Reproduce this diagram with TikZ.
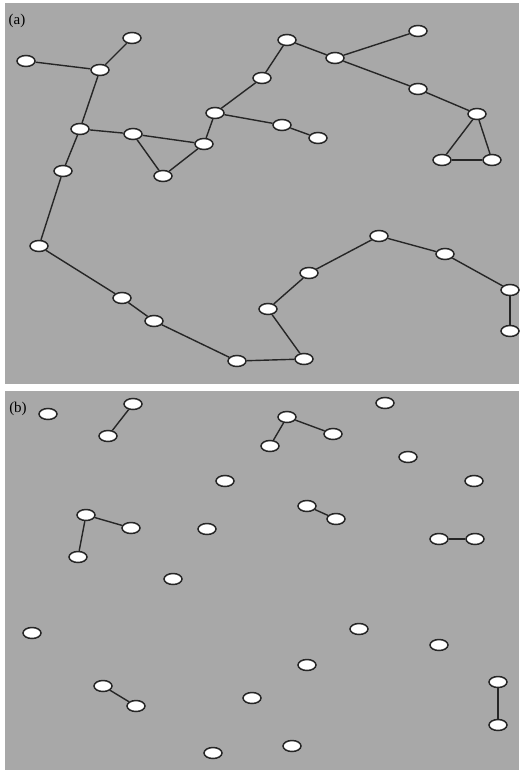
\documentclass[tikz,border=0pt]{standalone}
\usepackage{fontspec}
\setmainfont{Liberation Serif}
\usepackage{tikz}
\usetikzlibrary{shapes.geometric, positioning}

\definecolor{panelgray}{HTML}{A8A8A8}

\begin{document}
\begin{tikzpicture}[
    x=1pt, y=-1pt,
    % --- STYLES ---
    sensor/.style={
        ellipse, draw=black!85, fill=white,
        line width=1.5pt,
        minimum width=18pt, minimum height=11pt,
        inner sep=0pt
    },
    link/.style={line width=1.4pt, black!85},
    panel/.style={fill=panelgray, draw=none},
    tag/.style={font=\fontsize{15}{16}\selectfont, inner sep=0pt}
]

% ===== 1. CANVAS & PANELS =====
\useasboundingbox (0,0) rectangle (519,770);
\fill[white] (0,0) rectangle (519,770);
\fill[panel] (5,3) rectangle (519,384);
\fill[panel] (5,391) rectangle (519,770);

\node[tag] (taga) at (17,21) {(a)};
\node[tag] (tagb) at (18,409) {(b)};

% ===== 2. PANEL (a) NODES =====
\node[sensor] (a1) at (26,61) {};
\node[sensor] (a2) at (100,70) {};
\node[sensor] (a3) at (132,38) {};
\node[sensor] (a4) at (80,129) {};
\node[sensor] (a5) at (133,134) {};
\node[sensor] (a6) at (204,144) {};
\node[sensor] (a7) at (163,176) {};
\node[sensor] (a8) at (63,171) {};
\node[sensor] (a9) at (215,113) {};
\node[sensor] (a10) at (262,78) {};
\node[sensor] (a11) at (287,40) {};
\node[sensor] (a12) at (335,58) {};
\node[sensor] (a13) at (418,31) {};
\node[sensor] (a14) at (418,89) {};
\node[sensor] (a15) at (477,114) {};
\node[sensor] (a16) at (442,160) {};
\node[sensor] (a17) at (492,160) {};
\node[sensor] (a18) at (282,125) {};
\node[sensor] (a19) at (318,138) {};
\node[sensor] (a20) at (39,246) {};
\node[sensor] (a21) at (122,298) {};
\node[sensor] (a22) at (154,321) {};
\node[sensor] (a23) at (237,361) {};
\node[sensor] (a24) at (304,359) {};
\node[sensor] (a25) at (268,309) {};
\node[sensor] (a26) at (309,273) {};
\node[sensor] (a27) at (379,236) {};
\node[sensor] (a28) at (445,254) {};
\node[sensor] (a29) at (510,290) {};
\node[sensor] (a30) at (510,331) {};

% ===== 3. PANEL (b) NODES =====
\node[sensor] (b1) at (48,414) {};
\node[sensor] (b2) at (133,404) {};
\node[sensor] (b3) at (108,436) {};
\node[sensor] (b4) at (225,481) {};
\node[sensor] (b5) at (86,515) {};
\node[sensor] (b6) at (131,528) {};
\node[sensor] (b7) at (78,557) {};
\node[sensor] (b8) at (207,529) {};
\node[sensor] (b9) at (173,579) {};
\node[sensor] (b10) at (287,417) {};
\node[sensor] (b11) at (333,434) {};
\node[sensor] (b12) at (270,446) {};
\node[sensor] (b13) at (385,403) {};
\node[sensor] (b14) at (408,457) {};
\node[sensor] (b15) at (474,481) {};
\node[sensor] (b16) at (307,506) {};
\node[sensor] (b17) at (336,519) {};
\node[sensor] (b18) at (439,539) {};
\node[sensor] (b19) at (475,539) {};
\node[sensor] (b20) at (32,633) {};
\node[sensor] (b21) at (103,686) {};
\node[sensor] (b22) at (136,706) {};
\node[sensor] (b23) at (252,698) {};
\node[sensor] (b24) at (213,753) {};
\node[sensor] (b25) at (359,629) {};
\node[sensor] (b26) at (307,665) {};
\node[sensor] (b27) at (439,645) {};
\node[sensor] (b28) at (498,682) {};
\node[sensor] (b29) at (498,725) {};
\node[sensor] (b30) at (292,746) {};

% ===== 4. CONNECTIONS =====

% -- Panel (a): long chain on the left and bottom --
\draw[link] (a1) -- (a2);
\draw[link] (a2) -- (a3);
\draw[link] (a2) -- (a4);
\draw[link] (a4) -- (a8);
\draw[link] (a8) -- (a20);
\draw[link] (a20) -- (a21);
\draw[link] (a21) -- (a22);
\draw[link] (a22) -- (a23);
\draw[link] (a23) -- (a24);
\draw[link] (a24) -- (a25);
\draw[link] (a25) -- (a26);
\draw[link] (a26) -- (a27);
\draw[link] (a27) -- (a28);
\draw[link] (a28) -- (a29);
\draw[link] (a29) -- (a30);

% -- Panel (a): upper branch with the two triangles --
\draw[link] (a4) -- (a5);
\draw[link] (a5) -- (a6);
\draw[link] (a5) -- (a7);
\draw[link] (a7) -- (a6);
\draw[link] (a6) -- (a9);
\draw[link] (a9) -- (a10);
\draw[link] (a10) -- (a11);
\draw[link] (a11) -- (a12);
\draw[link] (a12) -- (a13);
\draw[link] (a12) -- (a14);
\draw[link] (a14) -- (a15);
\draw[link] (a15) -- (a16);
\draw[link] (a15) -- (a17);
\draw[link] (a16) -- (a17);
\draw[link] (a9) -- (a18);
\draw[link] (a18) -- (a19);

% -- Panel (b): remaining links --
\draw[link] (b2) -- (b3);
\draw[link] (b5) -- (b6);
\draw[link] (b5) -- (b7);
\draw[link] (b10) -- (b11);
\draw[link] (b10) -- (b12);
\draw[link] (b16) -- (b17);
\draw[link] (b18) -- (b19);
\draw[link] (b21) -- (b22);
\draw[link] (b28) -- (b29);

\end{tikzpicture}
\end{document}
